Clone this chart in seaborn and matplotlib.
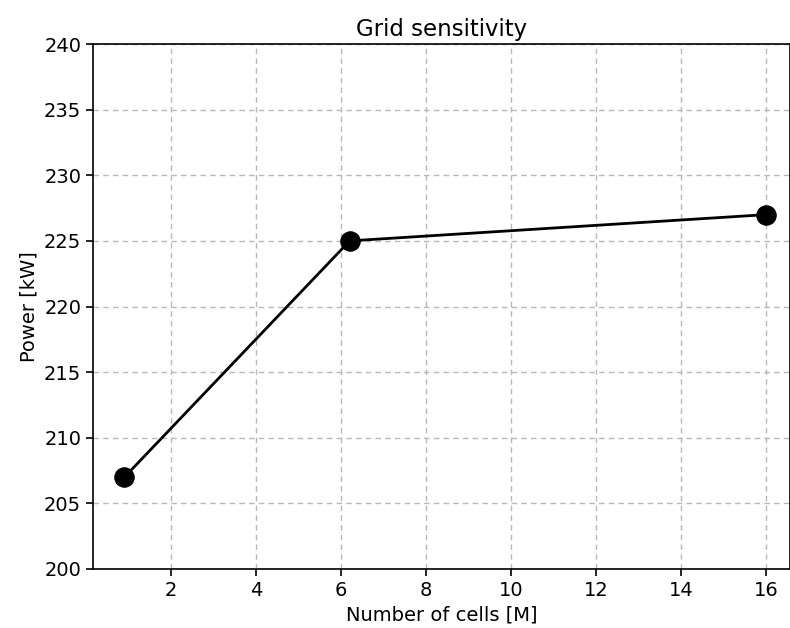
import pandas as pd
import seaborn as sns
import matplotlib.pyplot as plt

cells = [0.9, 6.2, 16.0]
power = [207, 225, 227]

df = pd.DataFrame({"cells": cells, "power": power})

sns.set_style("ticks")
plt.rcParams["font.family"] = ["DejaVu Sans"]
plt.rcParams["text.color"] = "black"
plt.rcParams["axes.labelcolor"] = "black"
plt.rcParams["xtick.color"] = "black"
plt.rcParams["ytick.color"] = "black"

fig = plt.figure(figsize=(7.9, 6.28), dpi=100)
ax = fig.add_axes([93 / 790, 1 - 569 / 628, 1 - 93 / 790, (569 - 44) / 628])

sns.lineplot(data=df, x="cells", y="power", ax=ax, color="black", linewidth=2,
             marker="o", markersize=14, markeredgecolor="black")

ax.set_xlim(0.16, 16.56)
ax.set_ylim(200, 240)
ax.set_xticks([2, 4, 6, 8, 10, 12, 14, 16])
ax.set_yticks(range(200, 241, 5))
ax.grid(True, linestyle=(0, (4, 3)), color="#b8b8b8", linewidth=1)
ax.set_axisbelow(True)
for s in ax.spines.values():
    s.set_color("black")
    s.set_linewidth(1.2)
ax.tick_params(labelsize=14, length=5, width=1.2, color="black")
ax.set_xlabel("Number of cells [M]", fontsize=14)
ax.set_ylabel("Power [kW]", fontsize=14)
ax.set_title("Grid sensitivity", fontsize=16.5, pad=6)

fig.savefig("out.png", dpi=100)
